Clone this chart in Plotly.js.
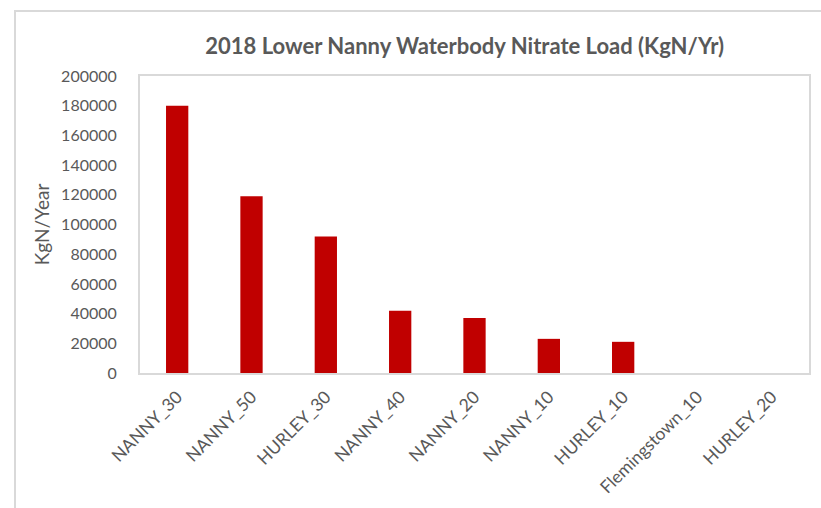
<!DOCTYPE html>
<html>
<head>
<meta charset="utf-8">
<script src="https://cdn.plot.ly/plotly-3.0.1.min.js"></script>
<style>
  html, body { margin: 0; padding: 0; background: #fff; }
  #wrap { position: relative; width: 821px; height: 508px; overflow: hidden; }
  #chart { width: 821px; height: 508px; }
  #frame { position: absolute; left: 14px; top: 10px; width: 830px; height: 520px;
           border: 2px solid #d9d9d9; pointer-events: none; box-sizing: border-box; }
</style>
</head>
<body>
<div id="wrap">
  <div id="chart"></div>
  <div id="frame"></div>
</div>
<script>
const categories = ["NANNY_30", "NANNY_50", "HURLEY_30", "NANNY_40", "NANNY_20", "NANNY_10", "HURLEY_10", "Flemingstown_10", "HURLEY_20"];
const loads = [180000, 119000, 92000, 42000, 37000, 23000, 21000, 0, 0];
const yTicks = [0, 20000, 40000, 60000, 80000, 100000, 120000, 140000, 160000, 180000, 200000];
const titleText = "2018 Lower Nanny Waterbody Nitrate Load (KgN/Yr)";
const yTitle = "KgN/Year";

const grey = "#595959";
const trace = {
  type: "bar",
  x: categories,
  y: loads,
  marker: { color: "#C00000", line: { width: 0 } },
  hoverinfo: "x+y"
};

const layout = {
  width: 821,
  height: 508,
  margin: { l: 140, r: 12, t: 76, b: 135, pad: 0 },
  paper_bgcolor: "#ffffff",
  plot_bgcolor: "#ffffff",
  bargap: 0.7,
  showlegend: false,
  font: { family: "Lato, 'Open Sans', sans-serif", color: grey },
  title: {
    text: "<b>" + titleText + "</b>",
    font: { family: "Lato, sans-serif", size: 22, color: grey },
    x: 0.566, xanchor: "center",
    y: 1 - 46 / 508, yanchor: "middle"
  },
  xaxis: {
    type: "category",
    tickangle: -45,
    tickfont: { family: "Lato, sans-serif", size: 17.5, color: grey },
    showline: true, linecolor: "#d9d9d9", linewidth: 2, mirror: true,
    showgrid: false, zeroline: false, ticks: "", ticklabelstandoff: 5
  },
  yaxis: {
    range: [0, 200000],
    tickvals: yTicks,
    ticktext: yTicks.map(String),
    tickfont: { family: "Lato, sans-serif", size: 16, color: grey },
    showline: true, linecolor: "#d9d9d9", linewidth: 2, mirror: true,
    showgrid: false, zeroline: false, ticks: "", ticklabelstandoff: 18,
    title: { text: yTitle, font: { family: "Lato, sans-serif", size: 19, color: grey }, standoff: 6 }
  }
};

Plotly.newPlot("chart", [trace], layout, { displayModeBar: false, staticPlot: true });
</script>
</body>
</html>
